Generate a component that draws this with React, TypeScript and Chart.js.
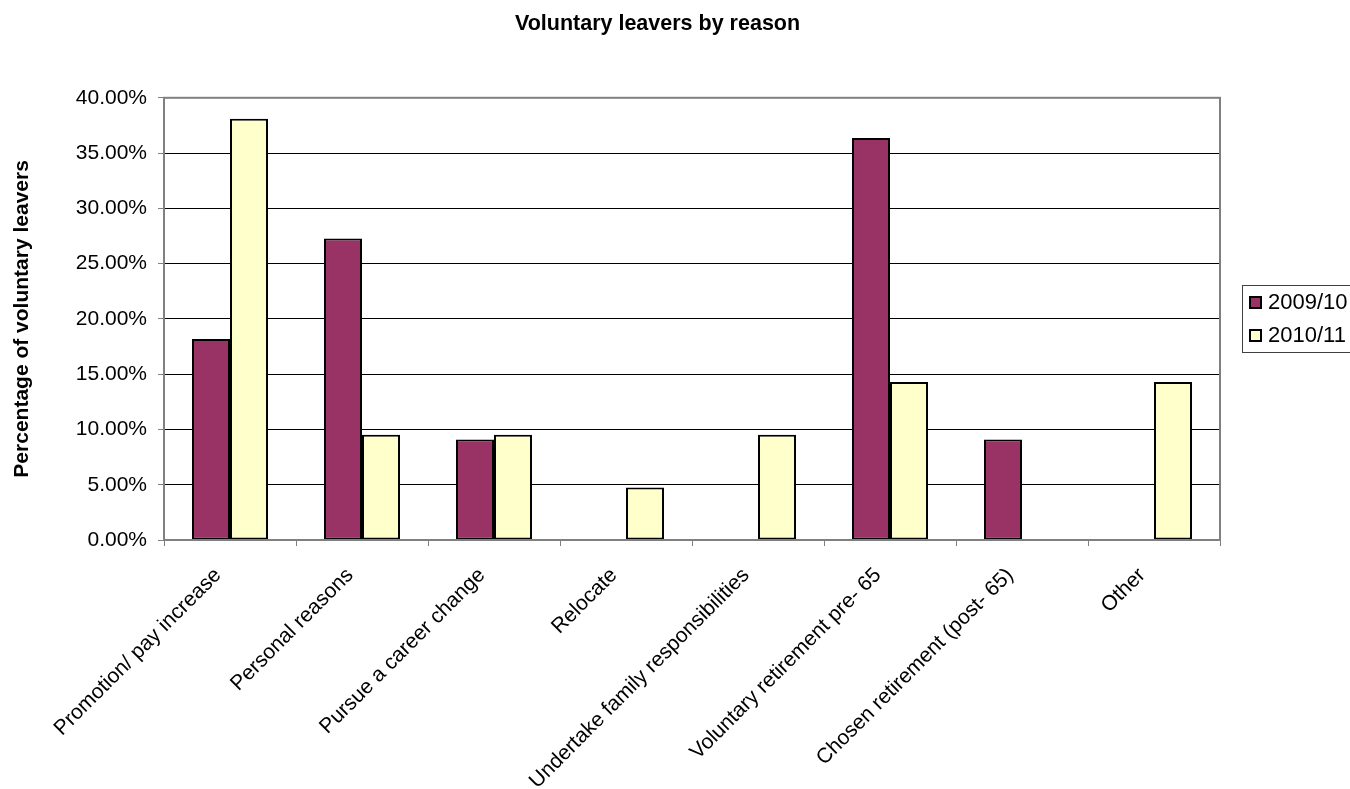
import { useEffect, useRef } from "react";
import { Chart, registerables } from "chart.js";

Chart.register(...registerables);

// Share of voluntary leavers (%) by reason given
const reasons = [
  "Promotion/ pay increase",
  "Personal reasons",
  "Pursue a career change",
  "Relocate",
  "Undertake family responsibilities",
  "Voluntary retirement pre- 65",
  "Chosen retirement (post- 65)",
  "Other",
];
const seriesNames = ["2009/10", "2010/11"];
const leavers2009 = [18.18, 27.27, 9.09, 0, 0, 36.36, 9.09, 0];
const leavers2010 = [38.1, 9.52, 9.52, 4.76, 9.52, 14.29, 0, 14.29];
const yMin = 0;
const yMax = 40;
const yStep = 5;

const FONT = '"Liberation Sans", Arial, Helvetica, sans-serif';

// Grey frame round the plot area
const plotFrame = {
  id: "plotFrame",
  afterDatasetsDraw(chart: any) {
    const { ctx, chartArea } = chart;
    ctx.save();
    ctx.strokeStyle = "#808080";
    ctx.lineWidth = 2;
    ctx.strokeRect(
      chartArea.left,
      chartArea.top,
      chartArea.right - chartArea.left,
      chartArea.bottom - chartArea.top
    );
    ctx.restore();
  },
};

// Boxed legend to the right of the plot, centred on it
const sideLegend = {
  id: "sideLegend",
  afterDraw(chart: any) {
    const { ctx, chartArea } = chart;
    const sets = chart.data.datasets;
    const left = chartArea.right + 22;
    const mid = (chartArea.top + chartArea.bottom) / 2;
    const rowGap = 33;
    const boxH = 67;
    ctx.save();
    ctx.strokeStyle = "#404040";
    ctx.lineWidth = 1;
    ctx.strokeRect(left + 0.5, Math.round(mid - boxH / 2) + 0.5, 300, boxH);
    ctx.font = `22px ${FONT}`;
    ctx.textBaseline = "middle";
    ctx.textAlign = "left";
    sets.forEach((ds: any, i: number) => {
      const y = Math.round(mid + (i - (sets.length - 1) / 2) * rowGap);
      ctx.fillStyle = ds.backgroundColor;
      ctx.fillRect(left + 7, y - 6, 13, 13);
      ctx.strokeStyle = "#000";
      ctx.lineWidth = 2;
      ctx.strokeRect(left + 8, y - 5, 11, 11);
      ctx.fillStyle = "#000";
      ctx.fillText(ds.label, left + 26, y + 1);
    });
    ctx.restore();
  },
};

export default function App() {
  const canvasRef = useRef<HTMLCanvasElement | null>(null);

  useEffect(() => {
    if (!canvasRef.current) return;
    const zeroless = (c: any) => (c.raw === 0 ? 0 : 2);
    const chart = new Chart(canvasRef.current, {
      type: "bar",
      data: {
        labels: reasons,
        datasets: [
          {
            label: seriesNames[0],
            data: leavers2009,
            backgroundColor: "#993366",
            borderColor: "#000000",
            borderWidth: zeroless,
            borderSkipped: false,
            yAxisID: "y",
          },
          {
            label: seriesNames[1],
            data: leavers2010,
            backgroundColor: "#FFFFCC",
            borderColor: "#000000",
            borderWidth: zeroless,
            borderSkipped: false,
            yAxisID: "y",
          },
        ],
      },
      options: {
        responsive: false,
        animation: false,
        devicePixelRatio: 1,
        layout: { padding: { left: 0, right: 35, top: 0, bottom: 0 } },
        datasets: {
          bar: { categoryPercentage: 0.576, barPercentage: 1 },
        },
        plugins: {
          legend: { display: false },
          tooltip: { enabled: false },
          title: {
            display: true,
            text: "Voluntary leavers by reason",
            color: "#000",
            font: { family: FONT, size: 21.5, weight: "bold" },
            padding: { top: 11, bottom: 61 },
          },
        },
        scales: {
          x: {
            afterFit: (s: any) => {
              s.height = 249;
            },
            border: { display: false },
            grid: {
              offset: true,
              drawOnChartArea: false,
              drawTicks: true,
              tickLength: 6,
              tickColor: "#808080",
              lineWidth: 1,
            },
            ticks: {
              autoSkip: false,
              minRotation: 45,
              maxRotation: 45,
              padding: 17,
              labelOffset: -12,
              color: "#000",
              font: { family: FONT, size: 21 },
            },
          },
          y: {
            min: yMin,
            max: yMax,
            afterFit: (s: any) => {
              s.width = 164;
            },
            border: { display: false },
            grid: {
              color: (c: any) =>
                c.tick && (c.tick.value === yMax || c.tick.value === yMin)
                  ? "rgba(0,0,0,0)"
                  : "#000",
              lineWidth: 1,
              tickLength: 6,
              tickColor: "#808080",
            },
            ticks: {
              stepSize: yStep,
              padding: 11,
              color: "#000",
              font: { family: FONT, size: 21 },
              callback: (v: any) => Number(v).toFixed(2) + "%",
            },
            title: {
              display: true,
              text: "Percentage of voluntary leavers",
              color: "#000",
              font: { family: FONT, size: 21, weight: "bold" },
              padding: { top: 10, bottom: 0 },
            },
          },
          // empty right-hand band that holds the legend
          legendBand: {
            type: "linear",
            position: "right",
            display: true,
            grid: { display: false },
            border: { display: false },
            ticks: { display: false },
            afterFit: (s: any) => {
              s.width = 95;
            },
          },
        },
      },
      plugins: [plotFrame, sideLegend],
    });
    return () => chart.destroy();
  }, []);

  return (
    <div style={{ position: "absolute", left: 0, top: 0, width: 1350, height: 789, background: "#fff" }}>
      <canvas ref={canvasRef} width={1350} height={789} style={{ display: "block" }} />
    </div>
  );
}
